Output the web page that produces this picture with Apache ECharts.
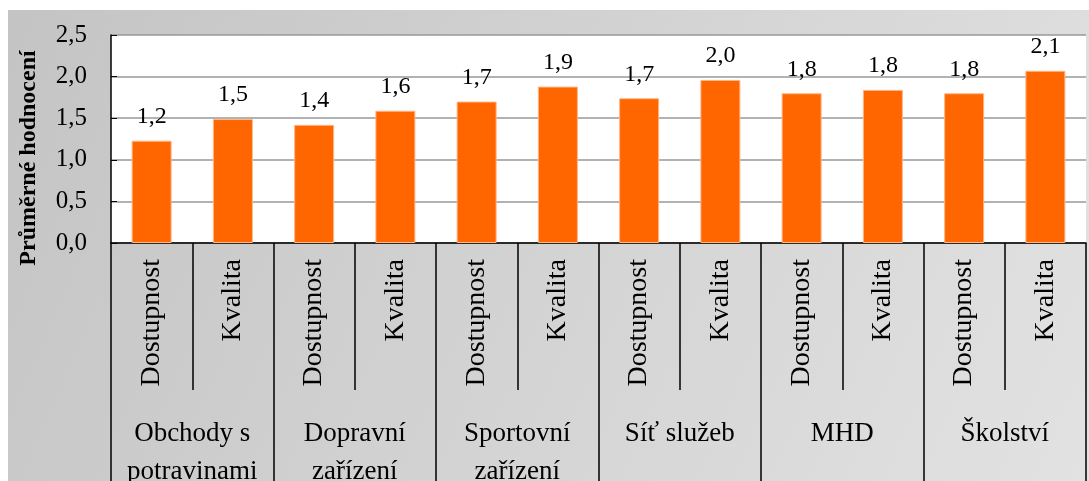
<!DOCTYPE html>
<html>
<head>
<meta charset="utf-8">
<script src="https://cdn.jsdelivr.net/npm/echarts@6/dist/echarts.min.js"></script>
<style>
  html, body { margin: 0; padding: 0; background: #fff; }
  #main { width: 1089px; height: 481px; }
</style>
</head>
<body>
<div id="main"></div>
<script>
var groups = ['Obchody s\npotravinami', 'Dopravní\nzařízení', 'Sportovní\nzařízení', 'Síť služeb', 'MHD', 'Školství'];
var items = ['Dostupnost', 'Kvalita', 'Dostupnost', 'Kvalita', 'Dostupnost', 'Kvalita',
             'Dostupnost', 'Kvalita', 'Dostupnost', 'Kvalita', 'Dostupnost', 'Kvalita'];
var values = [1.23, 1.49, 1.42, 1.59, 1.70, 1.88, 1.74, 1.96, 1.80, 1.84, 1.80, 2.07];
var yTicks = [0, 0.5, 1, 1.5, 2, 2.5];

var font = '"Liberation Serif", "DejaVu Serif", serif';
var chart = echarts.init(document.getElementById('main'));

var option = {
    backgroundColor: '#ffffff',
    animation: false,
    graphic: [{
        type: 'rect',
        z: -10,
        silent: true,
        shape: { x: 8, y: 10, width: 1081, height: 471 },
        style: {
            fill: new echarts.graphic.LinearGradient(0, 0, 1, 1, [
                { offset: 0, color: '#c4c4c4' },
                { offset: 1, color: '#e2e2e2' }
            ])
        }
    }],
    grid: {
        left: 111, right: 3, top: 35, bottom: 238,
        outerBoundsMode: 'none',
        containLabel: false,
        show: true, backgroundColor: '#ffffff', borderWidth: 0
    },
    xAxis: [{
        type: 'category',
        data: items,
        position: 'bottom',
        axisLine: { show: true, lineStyle: { color: '#000', width: 1.5 } },
        axisTick: { show: true, interval: 0, length: 147, lineStyle: { color: '#000', width: 1.5 } },
        axisLabel: {
            interval: 0, rotate: 90, margin: 16,
            fontFamily: font, fontSize: 28, color: '#000'
        }
    }, {
        type: 'category',
        data: groups,
        position: 'bottom',
        axisLine: { show: false },
        axisTick: { show: true, interval: 0, length: 240, lineStyle: { color: '#000', width: 1.5 } },
        axisLabel: {
            interval: 0, margin: 172, lineHeight: 38,
            fontFamily: font, fontSize: 27, color: '#000'
        }
    }],
    yAxis: {
        type: 'value',
        min: 0, max: 2.5, interval: 0.5,
        name: 'Průměrné hodnocení',
        nameLocation: 'middle',
        nameGap: 70,
        nameTextStyle: {
            fontFamily: font, fontSize: 24, fontWeight: 'bold', color: '#000',
            padding: [0, 38, 0, 0]
        },
        axisLine: { show: true, lineStyle: { color: '#000', width: 1.5 } },
        axisTick: { show: true, inside: true, length: 6, lineStyle: { color: '#000' } },
        splitLine: { lineStyle: { color: '#999', width: 1.5 } },
        axisLabel: {
            margin: 24,
            fontFamily: font, fontSize: 25, color: '#000',
            formatter: function (v) { return v.toFixed(1).replace('.', ','); }
        }
    },
    series: [{
        type: 'bar',
        data: values,
        barWidth: 40,
        itemStyle: { color: '#ff6600', borderColor: '#ffb585', borderWidth: 1 },
        label: {
            show: true, position: 'top', distance: 12,
            fontFamily: font, fontSize: 24, color: '#000',
            formatter: function (p) { return p.value.toFixed(1).replace('.', ','); }
        }
    }]
};

chart.setOption(option);
</script>
</body>
</html>
